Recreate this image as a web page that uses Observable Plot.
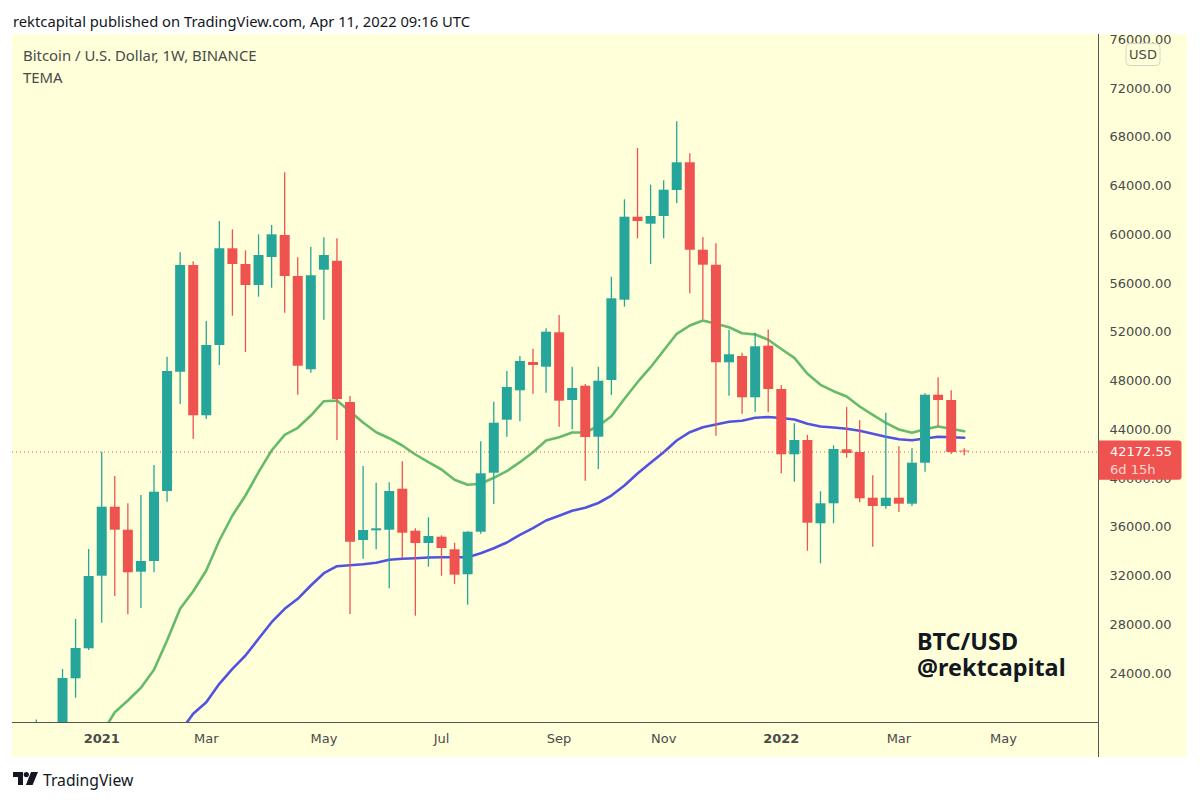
<!DOCTYPE html>
<html>
<head>
<meta charset="utf-8">
<script src="https://cdn.jsdelivr.net/npm/d3@7"></script>
<script src="https://cdn.jsdelivr.net/npm/@observablehq/plot@0.6"></script>
<style>
  html, body { margin: 0; padding: 0; background: #fff; }
  #title { height: 34px; padding-left: 13px; font: 14.75px/43px "Noto Sans", sans-serif; color: #131722; white-space: nowrap; }
  #chart { margin-left: 12px; height: 723px; }
  #footer { position: relative; height: 45px; }
  #footer svg { position: absolute; left: 13px; top: 15px; }
  #footer span { position: absolute; left: 43px; top: 12px; font: 15.7px/22px "Noto Sans", sans-serif; color: #131722; }
</style>
</head>
<body>
<div id="title">rektcapital published on TradingView.com, Apr 11, 2022 09:16 UTC</div>
<div id="chart"></div>
<div id="footer">
  <svg width="25" height="14" viewBox="0 0 25 14"><path d="M0 0h10v13H5V5H0z" fill="#131722"/><circle cx="13.3" cy="2.6" r="2.6" fill="#131722"/><path d="M18 0h7l-5.4 13H12.9z" fill="#131722"/></svg>
  <span>TradingView</span>
</div>
<script>
const firstWeek = "2020-11-30";
const opens  = [18200,19000,19250,23565,26026,31984,37645,35758,32312,33190,38933,48722,57477,45145,50913,58847,57559,55836,58133,59938,56574,48919,57091,57830,46236,34913,35709,35758,39122,35676,34667,35184,34150,32099,35594,40435,44784,47196,49518,49132,51955,46400,47573,43389,48041,54630,61440,60865,61497,63630,65903,58732,57502,49493,50010,46622,50855,47303,41945,43118,36283,37924,42355,42133,38384,37703,38384,37891,41255,46835,46400,42250];
const highs  = [20185,19400,24329,28431,34175,42158,40164,37924,38605,41067,49953,58519,57780,52882,61087,60406,58683,59996,60759,65083,58109,58978,59750,59667,46728,40985,39614,39647,41370,35873,36775,35300,34691,35627,43011,46261,48779,50010,50609,52283,53374,49132,47713,49132,56517,62867,67077,64065,64426,69267,66642,59774,59257,52143,50281,51922,52185,47631,44488,43528,38909,42683,45826,44734,40222,45358,42601,42437,46950,48263,47196,42437];
const lows   = [17650,17650,19000,21974,25887,28127,30318,28817,29334,32263,38056,46072,43200,44841,49272,53317,50338,54876,55614,53563,46835,48640,52989,43118,28841,33379,34150,30950,33412,28702,32723,31984,31303,29604,35430,37867,43389,44652,46917,46999,44209,43996,39779,40739,46810,54055,59667,57559,59667,62539,55155,53021,43471,46753,45276,45415,45399,40386,39696,34035,33001,36283,41666,38007,34363,37481,37210,37703,40517,44267,41969,41862];
const closes = [19000,19250,23590,26052,31959,37645,35758,32263,33190,38876,48779,57477,45145,50913,58847,57559,55836,58297,59996,56574,49214,56632,58297,46482,34774,35733,35873,38933,35512,34667,35241,34257,32066,35594,40386,44537,47467,49600,49272,52004,46343,47385,43364,47984,54744,61440,61087,61497,63655,65903,58732,57502,49493,50150,46622,50806,47303,41945,43118,36333,37924,42380,42051,38334,37703,38384,37891,41255,46835,46400,42133,42172.55];

const greenStart = "2021-01-04";
const greenLine = [19077,20825,21785,22827,24304,26708,29309,30753,32451,34913,36964,38605,40517,42297,43586,44160,45169,46343,46400,45497,44595,43799,43307,42708,41969,41338,40739,39893,39483,39565,40058,40599,41338,42158,43118,43389,43774,43774,44308,45112,46539,47902,49132,50502,51873,52554,52964,52693,52414,51922,51815,51389,50626,49903,48591,47688,47163,46728,45908,45226,44570,44021,43750,44045,44267,44078,43881];
const blueStart = "2021-02-15";
const blueLine = [19241,20694,21646,23155,24386,25477,26848,28209,29309,30129,31221,32230,32804,32886,32968,33083,33329,33411,33460,33517,33543,33543,33543,33871,34281,34749,35381,35922,36554,36940,37350,37596,37990,38605,39426,40410,41289,42158,43118,43799,44209,44431,44652,44734,44980,45046,44964,44841,44488,44267,44185,44078,43914,43668,43422,43225,43143,43282,43422,43389,43340];

const lastPrice = 42172.55;
const lastCountdown = "6d 15h";
const currency = "USD";
const priceTicks = [24000,28000,32000,36000,40000,44000,48000,52000,56000,60000,64000,68000,72000,76000];
const monthTicks = ["2021-03-01","2021-05-03","2021-07-05","2021-09-06","2021-11-01","2022-03-07","2022-05-02"];
const monthLabels = ["Mar","May","Jul","Sep","Nov","Mar","May"];
const yearTicks = ["2021-01-04","2022-01-03"];
const yearLabels = ["2021","2022"];
const legendSymbol = "Bitcoin / U.S. Dollar, 1W, BINANCE";
const legendStudy = "TEMA";
const watermarkPair = "BTC/USD";
const watermarkAuthor = "@rektcapital";

const UP = "#26a69a", DOWN = "#ef5350", FONT = '"DejaVu Sans", sans-serif', NOTE_FONT = '"Noto Sans", sans-serif', AXIS = "#4a4a4a", PAPER = "#ffffda";
const week = (s, i) => d3.utcDay.offset(new Date(s), 7 * i);
const candles = opens.map((o, i) => ({date: week(firstWeek, i), o, h: highs[i], l: lows[i], c: closes[i]}));
const series = (s, v) => v.map((p, i) => ({date: week(s, i), p}));
const color = d => d.c >= d.o ? UP : DOWN;
const labelOf = (ds, ls) => d => ls[ds.findIndex(s => +new Date(s) === +d)];
const note = (t, dx, dy, o) => Plot.text([t], {text: d => d, frameAnchor: "top-left", dx, dy, textAnchor: "start", lineAnchor: "middle", fontFamily: NOTE_FONT, ...o});

const frameMark = (index, {y}, values, {width, height, marginRight, marginBottom}) => {
  const g = d3.create("svg:g").attr("text-anchor", "start").attr("font-family", FONT).attr("font-size", 13);
  const ax = width - marginRight + 0.5, ay = height - marginBottom + 0.5;
  g.append("line").attr("x1", 0).attr("x2", width - marginRight).attr("y1", ay).attr("y2", ay).attr("stroke", "#555");
  g.append("line").attr("x1", ax).attr("x2", ax).attr("y1", 0).attr("y2", height).attr("stroke", "#555");
  const py = y(lastPrice);
  g.append("path").attr("d", `M${ax} ${py - 11}h80a3 3 0 0 1 3 3v33.3a3 3 0 0 1 -3 3h-80z`).attr("fill", DOWN);
  g.append("text").attr("x", ax + 11.5).attr("y", py).attr("dy", "0.35em").attr("fill", "#fff").text(lastPrice.toFixed(2));
  g.append("text").attr("x", ax + 11.5).attr("y", py + 17.6).attr("dy", "0.35em").attr("fill", "#ffd6d3").text(lastCountdown);
  const bx = ax + 27.5;
  g.append("rect").attr("x", bx).attr("y", 9.5).attr("width", 34).attr("height", 22).attr("rx", 4).attr("fill", PAPER).attr("stroke", "#d6d6c4");
  g.append("text").attr("x", bx + 17).attr("y", 20.5).attr("dy", "0.35em").attr("text-anchor", "middle").attr("fill", AXIS).text(currency);
  return g.node();
};

const chart = Plot.plot({
  width: 1175, height: 723,
  marginTop: 0, marginRight: 89, marginBottom: 35, marginLeft: 0,
  style: {background: PAPER, fontFamily: FONT, overflow: "hidden", maxWidth: "none"},
  x: {type: "utc", domain: [new Date("2020-11-17T05:00Z"), new Date("2022-06-21T22:00Z")]},
  y: {domain: [19980, 76430]},
  marks: [
    Plot.axisY({anchor: "right", ticks: priceTicks, tickSize: 0, tickPadding: 11, fontSize: 13, fill: AXIS, label: null, tickFormat: d => d.toFixed(2)}),
    Plot.axisX({ticks: monthTicks.map(s => new Date(s)), tickSize: 0, tickPadding: 11, fontSize: 13, fill: AXIS, label: null, tickFormat: labelOf(monthTicks, monthLabels)}),
    Plot.axisX({ticks: yearTicks.map(s => new Date(s)), tickSize: 0, tickPadding: 11, fontSize: 13, fontWeight: "bold", fill: AXIS, label: null, tickFormat: labelOf(yearTicks, yearLabels)}),
    Plot.line(series(greenStart, greenLine), {x: "date", y: "p", stroke: "#66bb6a", strokeWidth: 2.6, clip: true}),
    Plot.line(series(blueStart, blueLine), {x: "date", y: "p", stroke: "#5252e0", strokeWidth: 2.6, clip: true}),
    Plot.ruleY([lastPrice], {stroke: DOWN, strokeWidth: 1, strokeDasharray: "1 3"}),
    Plot.ruleX(candles, {x: "date", y1: "l", y2: "h", stroke: color, strokeWidth: 1.3, clip: true}),
    Plot.ruleX(candles, {x: "date", y1: "o", y2: "c", stroke: color, strokeWidth: 10, clip: true}),
    note(legendSymbol, 10.5, 22, {fill: AXIS, fontSize: 14.9}),
    note(legendStudy, 10.5, 44, {fill: AXIS, fontSize: 14.9}),
    note(watermarkPair, 904.5, 608, {fill: "#131722", fontSize: 23.4, fontWeight: "bold"}),
    note(watermarkAuthor, 904.5, 634, {fill: "#131722", fontSize: 23.4, fontWeight: "bold"}),
    frameMark
  ]
});
document.getElementById("chart").append(chart);
</script>
</body>
</html>
